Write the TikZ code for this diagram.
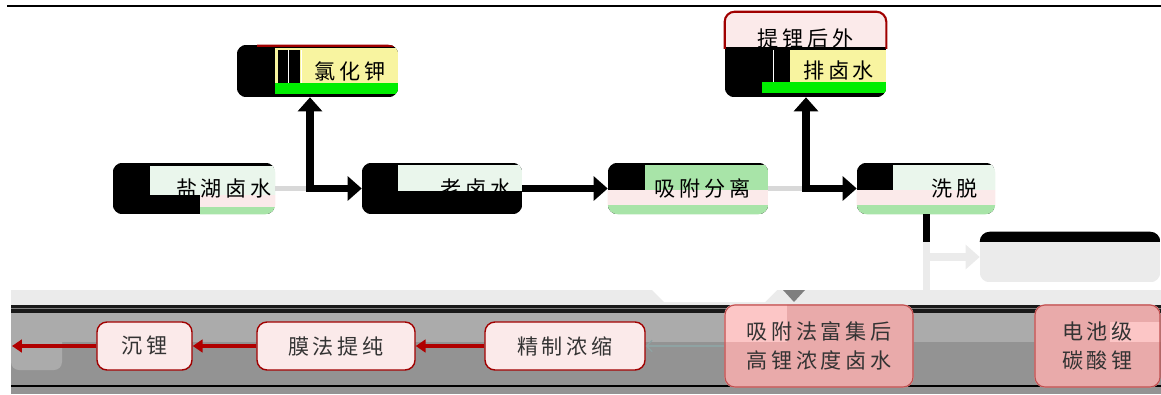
\documentclass[tikz,border=0pt]{standalone}
\usepackage{fontspec}
\newfontfamily\cjk[LetterSpace=18]{Noto Sans CJK SC}
\usetikzlibrary{arrows.meta}
\definecolor{lgreen}{HTML}{EAF6EC}
\definecolor{mgreen}{HTML}{A8E4A8}
\definecolor{pinkl}{HTML}{FBEAEA}
\definecolor{yel}{HTML}{F8F4A0}
\definecolor{bgreen}{HTML}{00EE00}
\definecolor{dred}{HTML}{A00000}
\definecolor{rred}{HTML}{B00000}
\definecolor{bandA}{HTML}{EBEBEB}
\definecolor{bandB}{HTML}{ABABAB}
\definecolor{bandC}{HTML}{939393}
\definecolor{bpink}{HTML}{E9AAAA}
\definecolor{bpinkl}{HTML}{FCC6C6}
\definecolor{txt}{HTML}{333333}
\definecolor{bord}{HTML}{C05050}
\definecolor{ghostc}{HTML}{D8D8D8}
\definecolor{faintc}{HTML}{8FA3A3}
\definecolor{tric}{HTML}{7F7F7F}
\pgfdeclarelayer{bg}
\pgfsetlayers{bg,main}
\newcommand\nodeclip[1]{\clip[rounded corners=0.25cm] (#1.south west) rectangle (#1.north east);}
\tikzset{
  box/.style={rectangle, rounded corners=0.25cm, inner sep=0pt, align=center},
  topbox/.style={box, minimum height=1.275cm, font=\cjk\fontsize{15}{22.7}\selectfont},
  pbox/.style={box, draw=dred, line width=1pt, fill=pinkl, minimum height=1.2cm, text=txt, font=\cjk\fontsize{15}{21}\selectfont},
  bigbox/.style={box, draw=bord, line width=0.8pt, minimum height=2.05cm, text=txt, font=\cjk\fontsize{15}{21}\selectfont},
  arr/.style={draw=black, line width=5pt, -{Triangle[length=10pt,width=17pt]}},
  ghost/.style={draw=ghostc, line width=3pt},
  grayarr/.style={draw=bandA, line width=5pt},
  rarr/.style={draw=rred, line width=2.8pt, -{Triangle[length=7pt,width=9pt]}},
  faint/.style={draw=faintc, line width=0.8pt, -{Straight Barb[length=4pt]}}
}
\begin{document}
\begin{tikzpicture}[x=0.025cm,y=-0.025cm]
\useasboundingbox (0,0) rectangle (1161,394);
% top row nodes
\node[topbox, minimum width=4.05cm] (yh) at (194,188.5) {\hspace*{42.5pt}盐湖卤水};
\node[topbox, minimum width=4.025cm, minimum height=1.3cm] (kcl) at (317.5,71) {\hspace*{46pt}氯化钾};
\node[topbox, minimum width=4cm] (lw) at (442,188.5) {\hspace*{48pt}老卤水};
\node[topbox, minimum width=4cm] (xf) at (688,188.5) {\hspace*{21pt}吸附分离};
\node[topbox, minimum width=4.025cm, minimum height=2.125cm] (tl) at (805.5,54.5) {提锂后外\\\hspace*{47pt}排卤水};
\node[topbox, minimum width=3.45cm] (xt) at (926,188.5) {\hspace*{41pt}洗脱};
\node[topbox, minimum width=4.5cm, minimum height=1.25cm] (rb) at (1070,257) {};
% bottom row nodes
\node[pbox, minimum width=2.375cm] (cl) at (144.5,346) {沉锂};
\node[pbox, minimum width=3.95cm] (mf) at (336,346) {膜法提纯};
\node[pbox, minimum width=4cm] (jz) at (565,346) {精制浓缩};
\node[bigbox, minimum width=4.7cm] (xfh) at (819,346) {吸附法富集后\\高锂浓度卤水};
\node[bigbox, minimum width=3.125cm] (dc) at (1097.5,346) {电池级\\碳酸锂};

\begin{pgfonlayer}{bg}
  \draw[line width=1.5pt] (7,6) -- (1161,6);
  % bottom band
  \fill[bandA] (11,290) rectangle (1161,305);
  \fill[white] (652,290) -- (664,302) -- (765,302) -- (777,290) -- cycle;
  \fill[tric] (783,290) -- (805,290) -- (794,302) -- cycle;
  \fill[black!90] (11,305) rectangle (1161,313);
  \draw[gray, line width=0.6pt] (11,308.5) -- (1161,308.5);
  \fill[bandB] (11,313) rectangle (1161,342);
  \fill[bandC] (11,342) rectangle (1161,394);
  \draw[black, line width=1.3pt] (11,386) -- (1161,386);
  \fill[bandB, rounded corners=0.2cm] (11,322) rectangle (62,370);
  % 盐湖卤水
  \begin{scope}\nodeclip{yh}
    \fill[black] (yh.north west) rectangle (yh.south east);
    \fill[lgreen] (150,166) rectangle (276,195);
    \fill[pinkl] (200,195) rectangle (276,207);
    \fill[mgreen] (200,207) rectangle (276,215);
  \end{scope}
  % 氯化钾
  \begin{scope}\nodeclip{kcl}
    \fill[black] (kcl.north west) rectangle (kcl.south east);
    \fill[yel] (275,48) rectangle (399,83);
    \fill[bgreen] (275,83) rectangle (399,94);
    \fill[black] (278,50) rectangle (300,83);
    \draw[white, line width=0.5pt] (288,50) -- (288,83) (301.5,50) -- (301.5,83);
    \draw[dred, line width=1.5pt] (257,45.5) -- (395,45.5);
  \end{scope}
  % 老卤水
  \begin{scope}\nodeclip{lw}
    \fill[black] (lw.north west) rectangle (lw.south east);
    \fill[lgreen] (398,165) rectangle (523,191);
  \end{scope}
  % 吸附分离
  \begin{scope}\nodeclip{xf}
    \fill[black] (xf.north west) rectangle (xf.south east);
    \fill[mgreen] (645,165) rectangle (769,190);
    \fill[pinkl] (607,190) rectangle (769,205);
    \fill[mgreen] (607,205) rectangle (769,215);
  \end{scope}
  % 洗脱
  \begin{scope}\nodeclip{xt}
    \fill[black] (xt.north west) rectangle (xt.south east);
    \fill[lgreen] (893,165) rectangle (996,190);
    \fill[pinkl] (856,190) rectangle (996,205);
    \fill[mgreen] (856,205) rectangle (996,215);
  \end{scope}
  % 提锂后外排卤水
  \begin{scope}\nodeclip{tl}
    \fill[black] (tl.north west) rectangle (tl.south east);
    \fill[pinkl] (724,11) rectangle (887,47);
    \fill[yel] (790,50) rectangle (887,82);
    \fill[bgreen] (762,82) rectangle (887,93);
    \draw[white, line width=0.5pt] (773,50) -- (773,82);
  \end{scope}
  \begin{scope}
    \clip (700,0) rectangle (900,49);
    \draw[dred, line width=1.5pt, rounded corners=0.25cm] (tl.south west) rectangle (tl.north east);
  \end{scope}
  % right box
  \begin{scope}\nodeclip{rb}
    \fill[bandA] (rb.north west) rectangle (rb.south east);
    \fill[black] (979,231) rectangle (1162,242);
  \end{scope}
  % big pink boxes
  \begin{scope}\nodeclip{xfh}
    \fill[bpink] (xfh.north west) rectangle (xfh.south east);
    \fill[bpinkl] (724,304) rectangle (787,342);
  \end{scope}
  \begin{scope}\nodeclip{dc}
    \fill[bpink] (dc.north west) rectangle (dc.south east);
    \fill[bpinkl] (1110,322) rectangle (1162,342);
  \end{scope}
\end{pgfonlayer}

% connectors, top row
\coordinate (j1) at (310,188.5);
\coordinate (j2) at (806,188.5);
\draw[ghost] (yh.east) -- (j1);
\draw[arr, line cap=rect] (j1) -- (lw.west);
\draw[arr, line cap=rect] (j1) -- (j1 |- kcl.south);
\draw[arr] (lw.east) -- (xf.west);
\draw[ghost] (xf.east) -- (j2);
\draw[arr, line cap=rect] (j2) -- (xt.west);
\draw[arr, line cap=rect] (j2) -- (j2 |- tl.south);
\coordinate (j3) at (xt.south |- rb.west);
\coordinate (j4) at (926,290);
\draw[grayarr] (xt.south) -- (j4);
\draw[grayarr, -{Triangle[length=10pt,width=17pt]}] (j3) -- (rb.west);
\draw[black, line width=5pt] (xt.south) -- (926,242);
% connectors, bottom row
\coordinate (lend) at (12,346);
\draw[faint] (xfh.west) -- (jz.east);
\draw[rarr] (jz.west) -- (mf.east);
\draw[rarr] (mf.west) -- (cl.east);
\draw[rarr] (cl.west) -- (lend);
\end{tikzpicture}
\end{document}
